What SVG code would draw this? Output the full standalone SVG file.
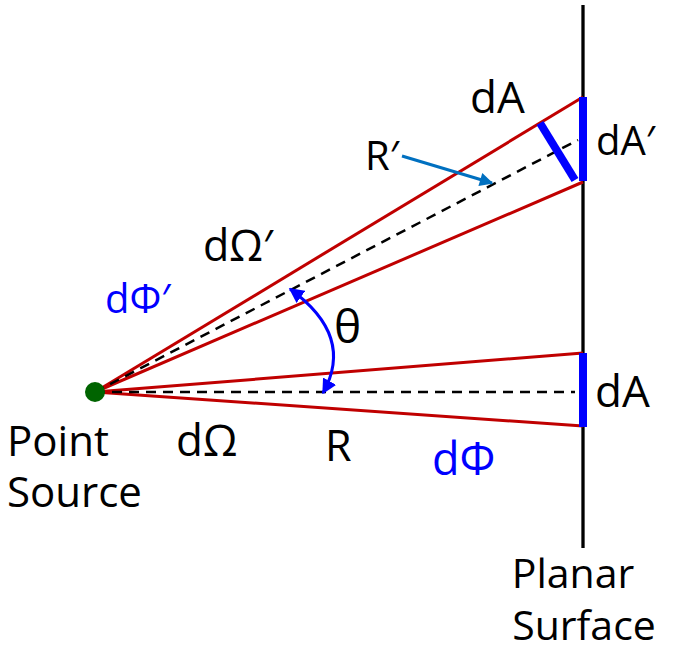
<svg xmlns="http://www.w3.org/2000/svg" width="673" height="650" viewBox="0 0 673 650">
<defs>
<style>
.red{stroke:#C00000;stroke-width:3;fill:none}
.dash{stroke:#000;stroke-width:2.5;stroke-dasharray:10 7;fill:none}
.bar{stroke:#0000FF;stroke-width:8;fill:none}
.t{font-family:"Open Sans","Noto Sans",sans-serif;fill:#000}
.b{fill:#0000FF}
</style>
<marker id="ah" viewBox="0 0 10 10" refX="9" refY="5" markerWidth="5" markerHeight="5" orient="auto-start-reverse" markerUnits="strokeWidth">
<path d="M0,0 L10,5 L0,10 Z" fill="#0000FF"/>
</marker>
<marker id="ah2" viewBox="0 0 10 10" refX="9" refY="5" markerWidth="7" markerHeight="4.5" orient="auto" markerUnits="strokeWidth">
<path d="M0,0 L10,5 L0,10 Z" fill="#0070C0"/>
</marker>
</defs>
<rect width="673" height="650" fill="#fff"/>
<g id="surface">
<line x1="583" y1="5" x2="583" y2="548" stroke="#000" stroke-width="3.3"/>
<text class="t" x="573" y="588" font-size="41" text-anchor="middle">Planar</text>
<text class="t" x="584" y="640" font-size="41" text-anchor="middle">Surface</text>
</g>
<g id="connectors">
<line class="red" x1="95" y1="392" x2="583" y2="97"/>
<line class="red" x1="95" y1="392" x2="583" y2="182"/>
<line class="red" x1="95" y1="392" x2="583" y2="353"/>
<line class="red" x1="95" y1="392" x2="583" y2="426"/>
<line class="dash" x1="95" y1="392" x2="578" y2="140"/>
<line class="dash" x1="95" y1="392" x2="575" y2="392"/>
<line x1="402" y1="156" x2="492" y2="183" stroke="#0070C0" stroke-width="3" marker-end="url(#ah2)"/>
<path d="M290,289 Q355,336 323,393" stroke="#0000FF" stroke-width="3" fill="none" marker-start="url(#ah)" marker-end="url(#ah)"/>
</g>
<g id="dA-upper">
<line class="bar" x1="583" y1="97" x2="583" y2="181"/>
<line class="bar" x1="540" y1="123" x2="575" y2="180" stroke-width="7"/>
<text class="t" x="470" y="113" font-size="44">dA</text>
<text class="t" x="596" y="155" font-size="40">dA′</text>
</g>
<g id="dA-lower">
<line class="bar" x1="583" y1="353" x2="583" y2="427"/>
<text class="t" x="595" y="407" font-size="44">dA</text>
</g>
<g id="source">
<circle cx="95" cy="392" r="10" fill="#006400"/>
<text class="t" x="7" y="456" font-size="42">Point</text>
<text class="t" x="7" y="507" font-size="42">Source</text>
</g>
<g id="labels">
<text class="t" x="365" y="170" font-size="40">R′</text>
<text class="t" x="203" y="261" font-size="43">dΩ′</text>
<text class="t b" x="105" y="313" font-size="40">dΦ′</text>
<text class="t" x="334" y="343" font-size="46">θ</text>
<text class="t" x="176" y="456" font-size="44">dΩ</text>
<text class="t" x="325" y="461" font-size="43">R</text>
<text class="t b" x="432" y="475" font-size="45">dΦ</text>
</g>
</svg>
